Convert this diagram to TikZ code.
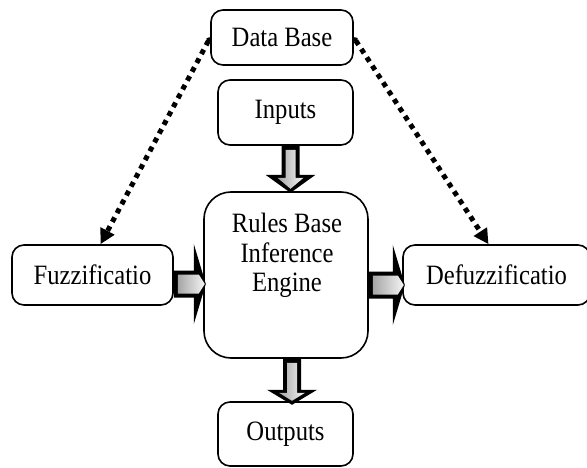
\documentclass[tikz,border=0pt]{standalone}
\usepackage{fontspec}
\setmainfont[FakeStretch=0.88]{Liberation Serif}
\usetikzlibrary{arrows.meta,calc}

\tikzset{
  box/.style={draw, line width=1.6pt, rounded corners=12pt, inner sep=0pt,
    font=\fontsize{28}{30}\selectfont},
  bigbox/.style={box, rounded corners=27pt},
  label text/.style={inner sep=0pt, align=center, font=\fontsize{28}{29.5}\selectfont},
  dotlink/.style={line width=5pt, dash pattern=on 5pt off 5pt,
    {Circle[length=5pt]}-{Triangle[length=15pt,width=15pt]}},
  arrowrim/.style={fill=black},
  arrowcore/.style={left color=gray!70, right color=gray!8},
}

% fat shaded arrow pointing right: #1 tail centre, #2 length
\newcommand\rightblock[2]{%
  \begin{scope}[shift={#1}]
    \fill[arrowrim] (0,-13.5) -- (#2-12,-13.5) -- (#2-12,-40) -- (#2,0)
      -- (#2-12,40) -- (#2-12,13.5) -- (0,13.5) -- cycle;
    \shade[arrowcore] (4,-9.5) -- (#2-7,-9.5) -- (#2-1,0) -- (#2-7,9.5)
      -- (4,9.5) -- cycle;
  \end{scope}}

% fat shaded arrow pointing down: #1 tail centre, #2 length, #3 head length
\newcommand\downblock[3]{%
  \begin{scope}[shift={#1}]
    \fill[arrowrim] (-9,0) -- (-9,#2-#3) -- (-25,#2-#3) -- (0,#2)
      -- (25,#2-#3) -- (9,#2-#3) -- (9,0) -- cycle;
    \shade[arrowcore] (-5,4) -- (-5,#2-#3+3) -- (-13,#2-#3+3) -- (0,#2-4)
      -- (13,#2-#3+3) -- (5,#2-#3+3) -- (5,4) -- cycle;
  \end{scope}}

\begin{document}
\begin{tikzpicture}[x=1pt, y=-1pt]
  \useasboundingbox (0,0) rectangle (587,468);

  % boxes
  \node[box, minimum width=142pt, minimum height=55pt] (dbase) at (282,37.5) {Data Base};
  \node[box, minimum width=135pt, minimum height=65pt] (inputs) at (285.5,112.5) {Inputs};
  \node[bigbox, minimum width=164pt, minimum height=166pt] (core) at (286,275) {};
  \node[label text, anchor=north] (coretext) at ($(core.north)+(1,22)$)
    {Rules Base\\Inference\\Engine};
  \node[box, minimum width=161pt, minimum height=60pt] (fuzz) at (92.5,275) {Fuzzificatio};
  \node[box, minimum width=187pt, minimum height=60pt] (defuzz) at (496.5,275)
    {Defuzzificatio};
  \node[box, minimum width=135pt, minimum height=64pt] (outputs) at (285.5,434) {Outputs};

  % dotted links from the data base
  \draw[dotlink] (dbase.west) -- ($(fuzz.north)+(8,0)$);
  \draw[dotlink] (dbase.east) -- ($(defuzz.north)+(-8,0)$);

  % data flow
  \downblock{($(inputs.south)+(5,0)$)}{47}{18}
  \rightblock{($(fuzz.east)+(0,9)$)}{32}
  \rightblock{($(core.east)+(0,10)$)}{36}
  \downblock{($(core.south)+(6,0)$)}{46}{15}
\end{tikzpicture}
\end{document}
